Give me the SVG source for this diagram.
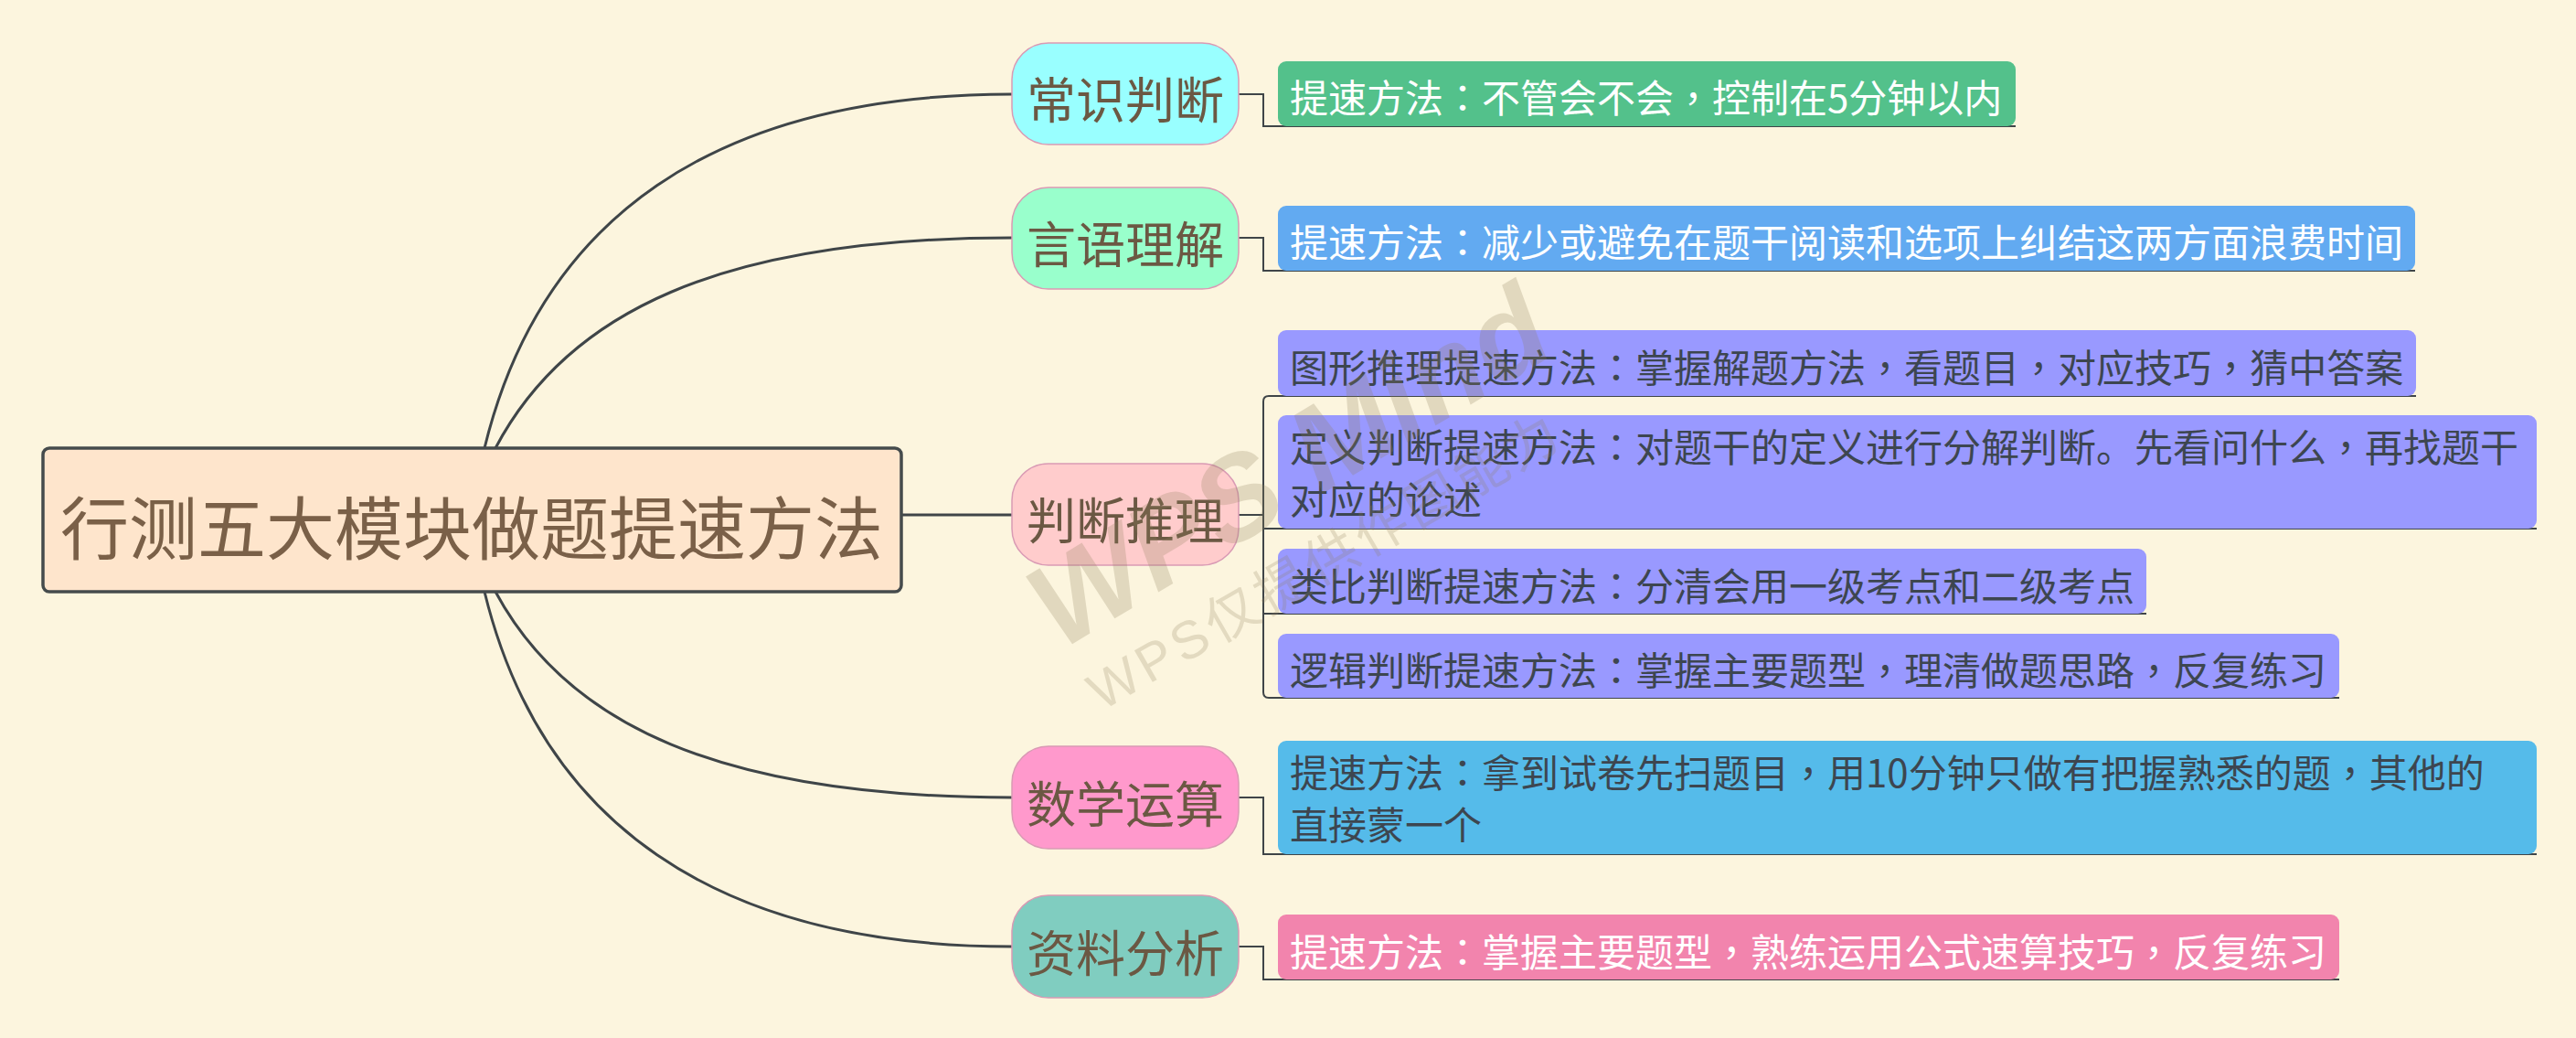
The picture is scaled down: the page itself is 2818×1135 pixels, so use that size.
<svg xmlns="http://www.w3.org/2000/svg" width="2818" height="1135" viewBox="0 0 2818 1135">
<style>
.bg{fill:#fcf5de}
.curve{fill:none;stroke:#3f4548;stroke-width:3}
.brk{fill:none;stroke:#3f4548;stroke-width:2}
.root{fill:#fee5cc;stroke:#454b4c;stroke-width:3.5}
.roottxt{font-family:"Noto Sans CJK SC","Microsoft YaHei",sans-serif;font-size:75px;fill:#7a6048;text-anchor:middle}
.node{stroke:#d99ab4;stroke-width:1.5}
.ntxt{font-family:"Noto Sans CJK SC",sans-serif;font-size:54px;fill:#6b5843;text-anchor:middle}
.ctxt{font-family:"Noto Sans CJK SC",sans-serif;font-size:42px}
.p{font-family:"Noto Sans CJK TC","Noto Sans CJK SC",sans-serif}
.w{fill:#ffffff}
.d{fill:#3d4650}
.wm1{font-family:"Liberation Sans",sans-serif;font-weight:bold;font-style:italic;font-size:130px;fill:#8d7f5a;opacity:0.24}
.wm2{font-family:"Liberation Sans","Noto Sans CJK SC",sans-serif;font-size:58px;fill:#8d7f5a;opacity:0.22;letter-spacing:5px}
</style>
<rect class="bg" x="0" y="0" width="2818" height="1135"/>

<g id="connectors">
  <path class="curve" d="M530,490 C591,240 780,103 1107,103"/>
  <path class="curve" d="M542,490 C620,342 787,260 1107,260"/>
  <path class="curve" d="M986,563 H1107"/>
  <path class="curve" d="M542,647 C620,792 787,872 1107,872"/>
  <path class="curve" d="M530,647 C591,897 780,1035 1107,1035"/>
  <path class="brk" d="M1355,103 H1382 V138 H2205"/>
  <path class="brk" d="M1355,260 H1382 V296 H2642"/>
  <path class="brk" d="M1355,563 H1382"/>
  <path class="brk" d="M1382,563 V439 Q1382,433 1388,433 H2643"/>
  <path class="brk" d="M1382,563 V578 H2775"/>
  <path class="brk" d="M1382,563 V671 H2348"/>
  <path class="brk" d="M1382,563 V757 Q1382,763 1388,763 H2559"/>
  <path class="brk" d="M1355,872 H1382 V934 H2775"/>
  <path class="brk" d="M1355,1035 H1382 V1071 H2559"/>
</g>

<g id="root">
  <rect class="root" x="47" y="490" width="939" height="157" rx="7"/>
  <text class="roottxt" x="516" y="606">行测五大模块做题提速方法</text>
</g>

<g id="n1">
  <rect class="node" x="1107" y="47" width="248" height="111" rx="40" fill="#99ffff"/>
  <text class="ntxt" x="1231" y="130">常识判断</text>
</g>
<g id="n2">
  <rect class="node" x="1107" y="205" width="248" height="111" rx="40" fill="#99ffcc"/>
  <text class="ntxt" x="1231" y="288">言语理解</text>
</g>
<g id="n3">
  <rect class="node" x="1107" y="507" width="248" height="111" rx="40" fill="#ffcccc" stroke="#e08aa2"/>
  <text class="ntxt" x="1231" y="590">判断推理</text>
</g>
<g id="n4">
  <rect class="node" x="1107" y="816" width="248" height="112" rx="40" fill="#ff99cc"/>
  <text class="ntxt" x="1231" y="900">数学运算</text>
</g>
<g id="n5">
  <rect class="node" x="1107" y="979" width="248" height="112" rx="40" fill="#80cdc0"/>
  <text class="ntxt" x="1231" y="1063">资料分析</text>
</g>

<g id="c1">
  <rect x="1398" y="67" width="807" height="71" rx="9" fill="#53c18b"/>
  <text class="ctxt w" x="1411" y="123">提速方法<tspan class="p">：</tspan>不管会不会<tspan class="p">，</tspan>控制在5分钟以内</text>
</g>
<g id="c2">
  <rect x="1398" y="225" width="1244" height="71" rx="9" fill="#62aaf1"/>
  <text class="ctxt w" x="1411" y="281">提速方法<tspan class="p">：</tspan>减少或避免在题干阅读和选项上纠结这两方面浪费时间</text>
</g>
<g id="c3a">
  <rect x="1398" y="361" width="1245" height="72" rx="9" fill="#9999ff"/>
  <text class="ctxt d" x="1411" y="418">图形推理提速方法<tspan class="p">：</tspan>掌握解题方法<tspan class="p">，</tspan>看题目<tspan class="p">，</tspan>对应技巧<tspan class="p">，</tspan>猜中答案</text>
</g>
<g id="c3b">
  <rect x="1398" y="454" width="1377" height="124" rx="9" fill="#9999ff"/>
  <text class="ctxt d" x="1411" y="505">定义判断提速方法<tspan class="p">：</tspan>对题干的定义进行分解判断。先看问什么<tspan class="p">，</tspan>再找题干</text>
  <text class="ctxt d" x="1411" y="562">对应的论述</text>
</g>
<g id="c3c">
  <rect x="1398" y="600" width="950" height="71" rx="9" fill="#9999ff"/>
  <text class="ctxt d" x="1411" y="657">类比判断提速方法<tspan class="p">：</tspan>分清会用一级考点和二级考点</text>
</g>
<g id="c3d">
  <rect x="1398" y="693" width="1161" height="70" rx="9" fill="#9999ff"/>
  <text class="ctxt d" x="1411" y="749">逻辑判断提速方法<tspan class="p">：</tspan>掌握主要题型<tspan class="p">，</tspan>理清做题思路<tspan class="p">，</tspan>反复练习</text>
</g>
<g id="c4">
  <rect x="1398" y="810" width="1377" height="124" rx="9" fill="#55bbea"/>
  <text class="ctxt d" x="1411" y="861">提速方法<tspan class="p">：</tspan>拿到试卷先扫题目<tspan class="p">，</tspan>用10分钟只做有把握熟悉的题<tspan class="p">，</tspan>其他的</text>
  <text class="ctxt d" x="1411" y="918">直接蒙一个</text>
</g>
<g id="c5">
  <rect x="1398" y="1000" width="1161" height="71" rx="9" fill="#f284ad"/>
  <text class="ctxt w" x="1411" y="1057">提速方法<tspan class="p">：</tspan>掌握主要题型<tspan class="p">，</tspan>熟练运用公式速算技巧<tspan class="p">，</tspan>反复练习</text>
</g>

<g id="watermark">
  <text class="wm1" x="1160" y="712" transform="rotate(-31 1160 712)">WPS Mind</text>
  <text class="wm2" x="1205" y="778" transform="rotate(-30 1205 778)">WPS仅提供作图能力</text>
</g>
</svg>
